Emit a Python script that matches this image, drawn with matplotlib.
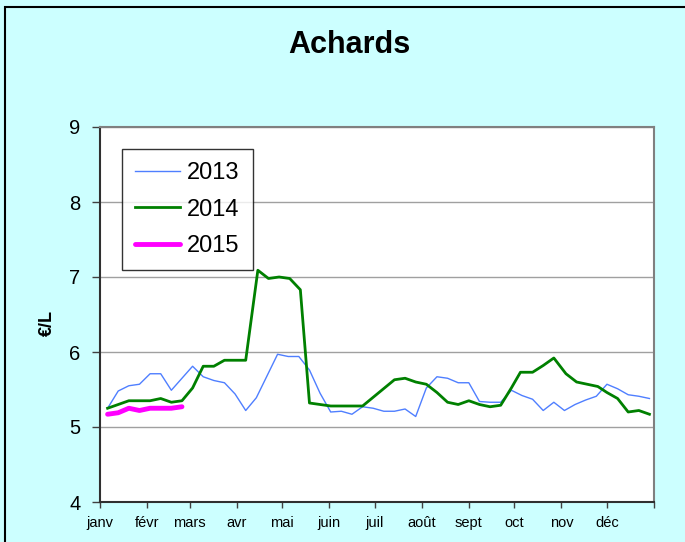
import matplotlib
matplotlib.use('Agg')
import matplotlib.pyplot as plt
from matplotlib.patches import Rectangle

plt.rcParams['font.family'] = ['Liberation Sans', 'DejaVu Sans']

# ── Data (day of year, price in €/L) ─────────────────────────────────────────
days_2013 = [5, 12, 19, 26, 33, 40, 47, 54, 61, 68, 75, 82, 89, 96, 103,
             117, 124, 131, 138, 145, 152, 159, 166, 173, 180, 187, 194, 201,
             208, 215, 222, 229, 236, 243, 250, 257, 264, 271, 278, 285, 292,
             299, 306, 313, 320, 327, 334, 341, 348, 355, 362]
price_2013 = [5.25, 5.48, 5.55, 5.57, 5.71, 5.71, 5.49, 5.65, 5.81, 5.67, 5.62,
              5.59, 5.44, 5.22, 5.39, 5.97, 5.94, 5.94, 5.76, 5.45, 5.20, 5.21,
              5.17, 5.27, 5.25, 5.21, 5.21, 5.24, 5.14, 5.52, 5.67, 5.65, 5.59,
              5.59, 5.34, 5.33, 5.33, 5.49, 5.42, 5.37, 5.22, 5.33, 5.22, 5.30,
              5.36, 5.41, 5.57, 5.51, 5.43, 5.41, 5.38]

days_2014 = [5, 12, 19, 26, 33, 40, 47, 54, 61, 68, 75, 82, 89, 96, 104, 111,
             118, 125, 132, 138, 145, 152, 159, 166, 173, 194, 201, 208, 215,
             222, 229, 236, 243, 250, 257, 264, 271, 277, 285, 292, 299, 307,
             314, 321, 328, 334, 341, 348, 355, 362]
price_2014 = [5.25, 5.30, 5.35, 5.35, 5.35, 5.38, 5.33, 5.35, 5.52, 5.81, 5.81,
              5.89, 5.89, 5.89, 7.09, 6.98, 7.00, 6.98, 6.83, 5.32, 5.30, 5.28,
              5.28, 5.28, 5.28, 5.63, 5.65, 5.60, 5.57, 5.46, 5.33, 5.30, 5.35,
              5.30, 5.27, 5.29, 5.52, 5.73, 5.73, 5.82, 5.92, 5.71, 5.60, 5.57,
              5.54, 5.46, 5.38, 5.20, 5.22, 5.17]

days_2015 = [5, 12, 19, 26, 33, 40, 47, 54]
price_2015 = [5.17, 5.19, 5.25, 5.22, 5.25, 5.25, 5.25, 5.27]

month_starts = [0, 31, 59, 90, 120, 151, 181, 212, 243, 273, 304, 334, 365]
month_labels = ['janv', 'févr', 'mars', 'avr', 'mai', 'juin', 'juil', 'août',
                'sept', 'oct', 'nov', 'déc', '']

# ── Figure ───────────────────────────────────────────────────────────────────
W, H = 685, 542
fig = plt.figure(figsize=(W / 100, H / 100), dpi=100, facecolor='#CCFFFF')

# outer chart border (cut off on the right and bottom)
fig.patches.append(Rectangle((5 / W, -0.05), 1.2, 1 - 7 / H + 0.05,
                             transform=fig.transFigure, fill=False,
                             edgecolor='black', linewidth=1.5))

ax = fig.add_axes([100 / W, 40 / H, 554 / W, 375 / H])
ax.set_facecolor('white')

ax.plot(days_2013, price_2013, color='#4F7FFF', linewidth=1.0, label='2013')
ax.plot(days_2014, price_2014, color='#008000', linewidth=2.0, label='2014')
ax.plot(days_2015, price_2015, color='#FF00FF', linewidth=3.5,
        solid_capstyle='round', label='2015')

ax.set_xlim(0, 365)
ax.set_ylim(4, 9)
ax.set_yticks([4, 5, 6, 7, 8, 9])
ax.set_xticks(month_starts)
ax.set_xticklabels(month_labels)
ax.tick_params(axis='y', labelsize=14.5, length=6, width=1, pad=8, color='#404040')
ax.tick_params(axis='x', labelsize=10.5, length=4, width=1, pad=6, color='#404040')

ax.grid(axis='y', color='#A0A0A0', linewidth=1)
ax.set_axisbelow(True)
for side in ['top', 'right']:
    ax.spines[side].set_color('#808080')
    ax.spines[side].set_linewidth(1.5)
for side in ['left', 'bottom']:
    ax.spines[side].set_color('#303030')
    ax.spines[side].set_linewidth(1.5)

ax.set_ylabel('€/L', fontsize=13, fontweight='bold')
ax.yaxis.set_label_coords(-0.079, 0.477)

fig.text(349 / W, 1 - 45 / H, 'Achards', fontsize=22, fontweight='bold',
         ha='center', va='center')

leg = ax.legend(loc='upper left', bbox_to_anchor=(0.040, 0.941),
                borderaxespad=0, fontsize=17, fancybox=False, frameon=True,
                edgecolor='black', handlelength=1.9, handletextpad=0.3,
                labelspacing=0.62, borderpad=0.55)
leg.get_frame().set_linewidth(1.0)

plt.savefig('out.png', dpi=100, facecolor=fig.get_facecolor())
